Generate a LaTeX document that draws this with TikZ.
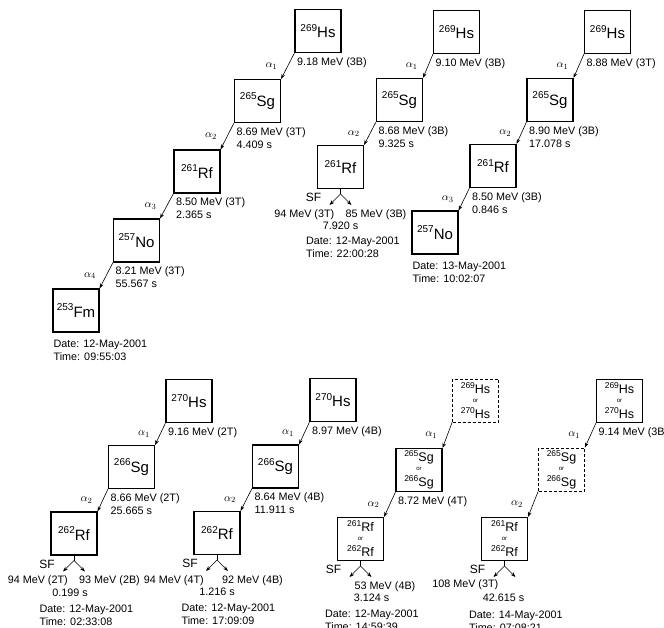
\documentclass[tikz,border=0pt]{standalone}
\usepackage{fontspec}
\setmainfont{Liberation Sans}
\usetikzlibrary{arrows.meta}
\newcommand{\nucl}[2]{\raisebox{6.5pt}{\fontsize{10}{10}\selectfont #1}{\fontsize{15}{15}\selectfont #2}}
\newcommand{\nucs}[2]{\raisebox{5pt}{\fontsize{8.5}{8.5}\selectfont #1}{\fontsize{12.5}{12.5}\selectfont #2}}
\newcommand{\nucor}[3]{\nucs{#1}{#3}\\[-4pt]{\fontsize{6}{6}\selectfont or}\\[3pt]\nucs{#2}{#3}}

\begin{document}
\begin{tikzpicture}[x=1pt, y=-1pt,
  nuc/.style={draw, line width=1.1pt, minimum width=46pt, minimum height=43pt,
    inner sep=0pt, align=center, font=\fontsize{12.5}{13}\selectfont},
  nucd/.style={nuc, line width=0.8pt, dash pattern=on 3pt off 2pt},
  arr/.style={line width=0.6pt, -{Stealth[length=5pt,width=3.6pt]}},
  alab/.style={midway, left=10pt, inner sep=0pt, font=\fontsize{11}{11}\selectfont},
  info/.style={anchor=north west, inner sep=0pt, align=left, font=\fontsize{10.8}{13}\selectfont},
  sf/.style={inner sep=0pt, font=\fontsize{12}{12}\selectfont}]
  \useasboundingbox (0,0) rectangle (664,628);

  % chain 1 (top left)
  \node[nuc] (A1) at (318,31) {\nucl{269}{Hs}};
  \node[nuc] (A2) at (257.5,101) {\nucl{265}{Sg}};
  \node[nuc] (A3) at (197,171.5) {\nucl{261}{Rf}};
  \node[nuc] (A4) at (136.5,240.5) {\nucl{257}{No}};
  \node[nuc] (A5) at (76,310.5) {\nucl{253}{Fm}};
  \draw[arr] (A1.south west) -- (A2.north east) node[alab] {$\alpha_1$};
  \draw[arr] (A2.south west) -- (A3.north east) node[alab] {$\alpha_2$};
  \draw[arr] (A3.south west) -- (A4.north east) node[alab] {$\alpha_3$};
  \draw[arr] (A4.south west) -- (A5.north east) node[alab] {$\alpha_4$};
  \node[info] (A1e) at ([shift={(2.5pt,-4pt)}]A1.south west) {9.18 MeV (3B)};
  \node[info] (A2e) at ([shift={(2.5pt,-4pt)}]A2.south west) {8.69 MeV (3T)\\4.409 s};
  \node[info] (A3e) at ([shift={(2.5pt,-4pt)}]A3.south west) {8.50 MeV (3T)\\2.365 s};
  \node[info] (A4e) at ([shift={(2.5pt,-4pt)}]A4.south west) {8.21 MeV (3T)\\55.567 s};
  \node[info] (A5d) at ([shift={(1pt,-7pt)}]A5.south west) {Date: 12-May-2001\\Time: 09:55:03};

  % chain 2 (top middle)
  \node[nuc] (B1) at (456.5,32) {\nucl{269}{Hs}};
  \node[nuc] (B2) at (399.5,100) {\nucl{265}{Sg}};
  \node[nuc] (B3) at (340.5,167) {\nucl{261}{Rf}};
  \draw[arr] (B1.south west) -- (B2.north east) node[alab] {$\alpha_1$};
  \draw[arr] (B2.south west) -- (B3.north east) node[alab] {$\alpha_2$};
  \node[info] (B1e) at ([shift={(2.5pt,-4pt)}]B1.south west) {9.10 MeV (3B)};
  \node[info] (B2e) at ([shift={(2.5pt,-4pt)}]B2.south west) {8.68 MeV (3B)\\9.325 s};
  \node[info, anchor=north east] (B3a) at ([shift={(-6pt,-20pt)}]B3.south) {94 MeV (3T)};
  \node[info] (B3b) at ([shift={(5pt,-20pt)}]B3.south) {85 MeV (3B)};
  \node[info, anchor=north] (B3t) at ([yshift=-33pt]B3.south) {7.920 s};
  \node[info] (B3d) at ([shift={(-11pt,-48pt)}]B3.south west) {Date: 12-May-2001\\Time: 22:00:28};

  % chain 3 (top right)
  \node[nuc] (C1) at (607.5,32) {\nucl{269}{Hs}};
  \node[nuc] (C2) at (550,100) {\nucl{265}{Sg}};
  \node[nuc] (C3) at (493,166) {\nucl{261}{Rf}};
  \node[nuc] (C4) at (435,232.5) {\nucl{257}{No}};
  \draw[arr] (C1.south west) -- (C2.north east) node[alab] {$\alpha_1$};
  \draw[arr] (C2.south west) -- (C3.north east) node[alab] {$\alpha_2$};
  \draw[arr] (C3.south west) -- (C4.north east) node[alab] {$\alpha_3$};
  \node[info] (C1e) at ([shift={(2.5pt,-4pt)}]C1.south west) {8.88 MeV (3T)};
  \node[info] (C2e) at ([shift={(2.5pt,-4pt)}]C2.south west) {8.90 MeV (3B)\\17.078 s};
  \node[info] (C3e) at ([shift={(2.5pt,-4pt)}]C3.south west) {8.50 MeV (3B)\\0.846 s};
  \node[info] (C4d) at ([shift={(1pt,-7pt)}]C4.south west) {Date: 13-May-2001\\Time: 10:02:07};

  % chain 4 (bottom left)
  \node[nuc] (D1) at (189,401) {\nucl{270}{Hs}};
  \node[nuc] (D2) at (131.5,467) {\nucl{266}{Sg}};
  \node[nuc] (D3) at (74,533.5) {\nucl{262}{Rf}};
  \draw[arr] (D1.south west) -- (D2.north east) node[alab] {$\alpha_1$};
  \draw[arr] (D2.south west) -- (D3.north east) node[alab] {$\alpha_2$};
  \node[info] (D1e) at ([shift={(2.5pt,-4pt)}]D1.south west) {9.16 MeV (2T)};
  \node[info] (D2e) at ([shift={(2.5pt,-4pt)}]D2.south west) {8.66 MeV (2T)\\25.665 s};
  \node[info, anchor=north east] (D3a) at ([shift={(-6pt,-20pt)}]D3.south) {94 MeV (2T)};
  \node[info] (D3b) at ([shift={(5pt,-20pt)}]D3.south) {93 MeV (2B)};
  \node[info, anchor=north] (D3t) at ([shift={(-4pt,-33pt)}]D3.south) {0.199 s};
  \node[info] (D3d) at ([shift={(-11pt,-49pt)}]D3.south west) {Date: 12-May-2001\\Time: 02:33:08};

  % chain 5
  \node[nuc] (E1) at (333,400) {\nucl{270}{Hs}};
  \node[nuc] (E2) at (275.5,466.5) {\nucl{266}{Sg}};
  \node[nuc] (E3) at (217,533) {\nucl{262}{Rf}};
  \draw[arr] (E1.south west) -- (E2.north east) node[alab] {$\alpha_1$};
  \draw[arr] (E2.south west) -- (E3.north east) node[alab] {$\alpha_2$};
  \node[info] (E1e) at ([shift={(2.5pt,-4pt)}]E1.south west) {8.97 MeV (4B)};
  \node[info] (E2e) at ([shift={(2.5pt,-4pt)}]E2.south west) {8.64 MeV (4B)\\11.911 s};
  \node[info, anchor=north east] (E3a) at ([shift={(-13pt,-20pt)}]E3.south) {94 MeV (4T)};
  \node[info] (E3b) at ([shift={(5pt,-20pt)}]E3.south) {92 MeV (4B)};
  \node[info, anchor=north] (E3t) at ([yshift=-33pt]E3.south) {1.216 s};
  \node[info] (E3d) at ([shift={(-12pt,-49pt)}]E3.south west) {Date: 12-May-2001\\Time: 17:09:09};

  % chain 6
  \node[nucd] (F1) at (475.5,400.5) {\nucor{269}{270}{Hs}};
  \node[nuc] (F2) at (419,470) {\nucor{265}{266}{Sg}};
  \node[nuc] (F3) at (360.5,539) {\nucor{261}{262}{Rf}};
  \draw[arr] (F1.south west) -- (F2.north east) node[alab] {$\alpha_1$};
  \draw[arr] (F2.south west) -- (F3.north east) node[alab] {$\alpha_2$};
  \node[info] (F2e) at ([shift={(2.5pt,-4pt)}]F2.south west) {8.72 MeV (4T)};
  \node[info] (F3b) at ([shift={(-6pt,-20pt)}]F3.south) {53 MeV (4B)};
  \node[info, anchor=north] (F3t) at ([shift={(11pt,-33pt)}]F3.south) {3.124 s};
  \node[info] (F3d) at ([shift={(-12pt,-49pt)}]F3.south west) {Date: 12-May-2001\\Time: 14:59:39};

  % chain 7 (bottom right)
  \node[nuc] (G1) at (619.5,401) {\nucor{269}{270}{Hs}};
  \node[nucd] (G2) at (561.5,469.5) {\nucor{265}{266}{Sg}};
  \node[nuc] (G3) at (504.5,539) {\nucor{261}{262}{Rf}};
  \draw[arr] (G1.south west) -- (G2.north east) node[alab] {$\alpha_1$};
  \draw[arr] (G2.south west) -- (G3.north east) node[alab] {$\alpha_2$};
  \node[info] (G1e) at ([shift={(2.5pt,-4pt)}]G1.south west) {9.14 MeV (3B)};
  \node[info, anchor=north east] (G3a) at ([shift={(-6pt,-18pt)}]G3.south) {108 MeV (3T)};
  \node[info, anchor=north] (G3t) at ([shift={(-1pt,-33pt)}]G3.south) {42.615 s};
  \node[info] (G3d) at ([shift={(-12pt,-50pt)}]G3.south west) {Date: 14-May-2001\\Time: 07:08:21};

  % fission forks
  \foreach \n in {B3,D3,E3,F3,G3} {
    \coordinate (\n-f) at ([yshift=-5pt]\n.south);
    \coordinate (\n-l) at ([shift={(-11pt,-11pt)}]\n-f);
    \coordinate (\n-r) at ([shift={(11pt,-11pt)}]\n-f);
    \draw[line width=0.6pt] (\n.south) -- (\n-f);
    \draw[arr] (\n-f) -- (\n-l);
    \draw[arr] (\n-f) -- (\n-r);
    \node[sf] (\n-sf) at ([shift={(-27pt,-8.5pt)}]\n.south) {SF};
  }
\end{tikzpicture}
\end{document}
